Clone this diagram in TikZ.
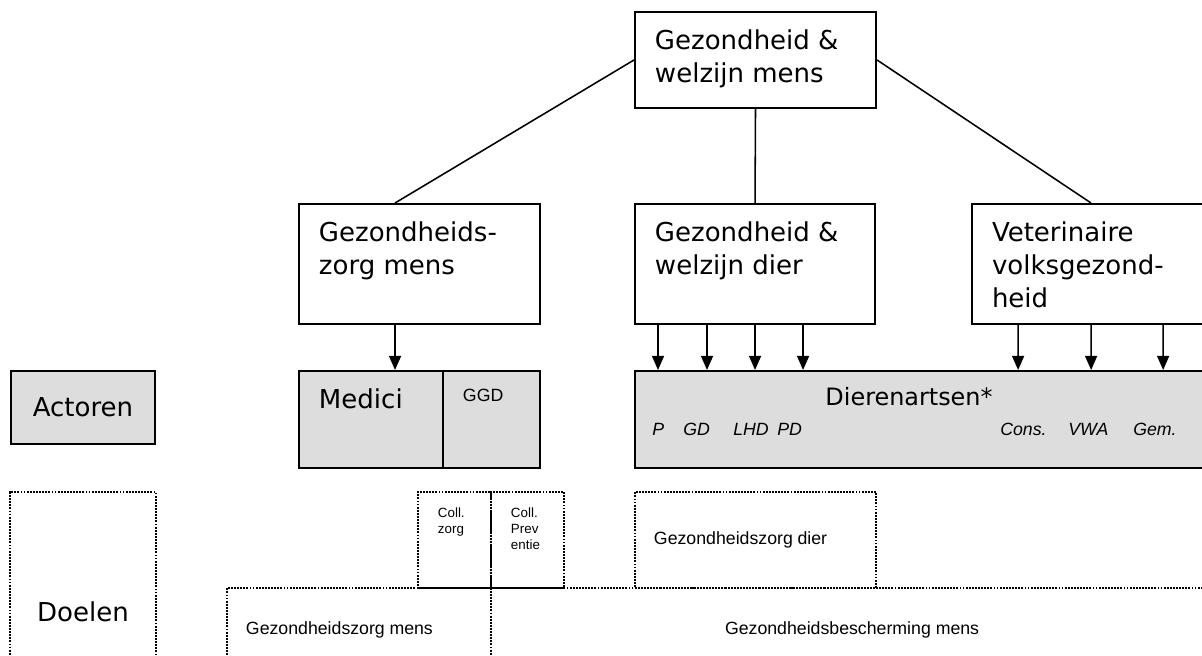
\documentclass[tikz,border=0pt]{standalone}
\usepackage{fontspec}
\setmainfont{DejaVu Sans}
\newfontfamily\arialfont{Liberation Sans}
\usetikzlibrary{arrows.meta}
\definecolor{actgray}{HTML}{DDDDDD}
\def\bigtxt{\fontsize{18.5}{23.5}\selectfont}
\def\midtxt{\fontsize{17}{21}\selectfont}
\def\smalltxt{\arialfont\fontsize{12.6}{15}\selectfont}
\def\tinytxt{\arialfont\fontsize{9.5}{11.2}\selectfont}
\newcommand\headtext[3]{\parbox[t][#2][t]{#1}{\raggedright #3}}
\tikzset{
  headbox/.style={draw, line width=1.4pt, anchor=north west, inner xsep=0.5cm, inner ysep=0.45cm},
  actbox/.style={draw, line width=1.4pt, fill=actgray, anchor=north west, inner sep=0pt},
  goalbox/.style={draw, line width=1.4pt, dash pattern=on 1.3pt off 0.9pt, anchor=north west, inner sep=0pt},
  link/.style={line width=1.1pt},
  arr/.style={line width=1.1pt, -{Triangle[width=8.5pt,length=10pt]}},
  tag/.style={anchor=base west, inner sep=0pt, font=\smalltxt\itshape}
}

\begin{document}
\begin{tikzpicture}[x=0.025cm, y=-0.025cm]
	%%%%% START %%%%%
	\useasboundingbox (0,0) rectangle (1202,656);
	\clip (0,0) rectangle (1202,656);
	
	% boxes on top
	\node[headbox] (gwmens) at (634,11) {\headtext{5.025cm}{1.5cm}{\bigtxt Gezondheid \&\\welzijn mens}};
	\node[headbox] (gzmens) at (298,203) {\headtext{5.025cm}{2.1cm}{\bigtxt Gezondheids-\\zorg mens}};
	\node[headbox] (gwdier) at (634,203) {\headtext{5cm}{2.1cm}{\bigtxt Gezondheid \&\\welzijn dier}};
	\node[headbox] (vvgez) at (971,203) {\headtext{4.95cm}{2.1cm}{\bigtxt Veterinaire\\volksgezond-\\heid}};
	
	\draw[link] (gwmens.west) -- ([xshift=2.425cm]gzmens.north west);
	\draw[link] (gwmens.south) -- (gwdier.north);
	\draw[link] (gwmens.east) -- (vvgez.north);
	
	% actoren
	\node[actbox, minimum width=3.6cm, minimum height=1.825cm] (actoren) at (10,370) {\bigtxt Actoren};
	\node[actbox, inner xsep=0.5cm, inner ysep=0.45cm] (medici) at (298,370) {\headtext{2.6cm}{1.525cm}{\bigtxt Medici}};
	\node[actbox, inner xsep=0.5cm, inner ysep=0.45cm] (ggd) at (442,370) {\headtext{1.425cm}{1.525cm}{\smalltxt GGD}};
	\node[actbox, minimum width=14.375cm, minimum height=2.425cm] (dier) at (634,370) {};
	\node[anchor=base, inner sep=0pt] (dierlabel) at ([shift={(275,35)}]dier.north west) {\midtxt Dierenartsen*};
	\foreach \lx/\lt in {18/P, 49/GD, 99/LHD, 143/PD, 366/Cons., 434/VWA, 499/Gem.}
		\node[tag] at ([shift={(\lx,65)}]dier.north west) {\lt};
	
	\draw[arr] ([xshift=2.425cm]gzmens.south west) -- ([xshift=2.425cm]medici.north west);
	\foreach \dx in {0.6, 1.825, 3.025, 4.225}
		\draw[arr] ([xshift=\dx cm]gwdier.south west) -- ([xshift=\dx cm]dier.north west);
	\foreach \a/\b in {1.175/9.6, 3.0/11.425, 4.8/13.225}
		\draw[arr] ([xshift=\a cm]vvgez.south west) -- ([xshift=\b cm]dier.north west);
	
	% doelen
	\node[goalbox, minimum width=3.65cm, minimum height=6cm] (doelen) at (9,491) {\bigtxt Doelen};
	\node[goalbox, inner xsep=0.5cm, inner ysep=0.4cm] (collzorg) at (417,491) {\headtext{0.825cm}{1.6cm}{\tinytxt Coll.\\zorg}};
	\node[goalbox, inner xsep=0.5cm, inner ysep=0.4cm] (collprev) at (490,491) {\headtext{0.825cm}{1.6cm}{\tinytxt Coll.\\Prev\\entie}};
	\node[goalbox, text width=5.075cm, inner xsep=0.475cm, minimum height=2.4cm, align=left] (gzdier) at (634,491) {\smalltxt Gezondheidszorg dier};
	\node[goalbox, text width=5.65cm, inner xsep=0.475cm, minimum height=2.1cm, align=left] (gzmensdoel) at (226,587) {\smalltxt Gezondheidszorg mens};
	\node[goalbox, minimum width=18.05cm, minimum height=2.1cm] (gbmens) at (490,587) {\smalltxt Gezondheidsbescherming mens};
	
	%%%%% END %%%%%
\end{tikzpicture}
\end{document}
